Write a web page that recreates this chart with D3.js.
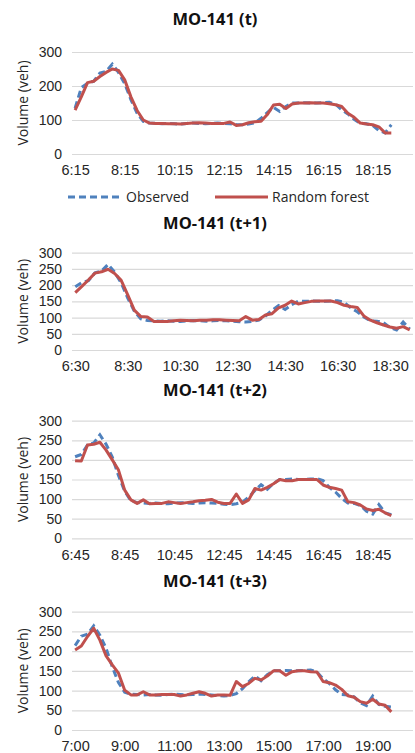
<!DOCTYPE html>
<html>
<head>
<meta charset="utf-8">
<script src="https://cdn.jsdelivr.net/npm/d3@7"></script>
<style>
  body { margin: 0; background: #fff; }
  text { font-family: "Open Sans", "Noto Sans", sans-serif; fill: #262626; }
</style>
</head>
<body>
<div id="chart"></div>
<script>
// panel titles and x-axis setup
const titles = ["MO-141 (t)", "MO-141 (t+1)", "MO-141 (t+2)", "MO-141 (t+3)"];
const startTimes = ["6:15", "6:30", "6:45", "7:00"];
const slotCounts = [55, 52, 55, 55];
const xTickLabels = [
  ["6:15", "8:15", "10:15", "12:15", "14:15", "16:15", "18:15"],
  ["6:30", "8:30", "10:30", "12:30", "14:30", "16:30", "18:30"],
  ["6:45", "8:45", "10:45", "12:45", "14:45", "16:45", "18:45"],
  ["7:00", "9:00", "11:00", "13:00", "15:00", "17:00", "19:00"]
];
const yTicks = [
  [0, 100, 200, 300],
  [0, 50, 100, 150, 200, 250, 300],
  [0, 50, 100, 150, 200, 250, 300],
  [0, 50, 100, 150, 200, 250, 300]
];

// observed volume by clock time, 15 min steps from 6:15
const observedStart = "6:15";
const observed = [
  135, 195, 208, 214, 238, 243, 264, 240, 207, 160,
  120, 96, 91, 90, 89, 90, 89, 88, 90, 91,
  90, 89, 90, 91, 90, 89, 87, 86, 88, 92,
  105, 122, 137, 125, 140, 150, 150, 151, 150, 150,
  151, 152, 147, 130, 118, 102, 90, 89, 84, 69,
  62, 86, 65, 60, 58
];
const pointsPerPanel = 52;

// random forest predictions, one per panel
const rfT0 = [
  129, 168, 210, 214, 228, 240, 250, 246, 218, 168,
  128, 100, 91, 90, 90, 89, 89, 88, 90, 91,
  92, 91, 90, 90, 90, 94, 84, 86, 92, 95,
  96, 116, 144, 146, 134, 147, 150, 150, 151, 150,
  150, 148, 145, 140, 120, 108, 91, 88, 86, 80,
  62, 62
];
const rfT1 = [
  177, 196, 216, 237, 241, 249, 236, 215, 170, 123,
  103, 102, 88, 88, 88, 90, 92, 91, 90, 92,
  92, 93, 93, 92, 91, 90, 103, 92, 94, 108,
  112, 130, 138, 151, 142, 146, 150, 151, 151, 151,
  146, 138, 134, 131, 105, 92, 84, 77, 71, 67,
  72, 62
];
const rfT2 = [
  198, 197, 238, 240, 245, 225, 200, 174, 123, 98,
  89, 98, 88, 89, 89, 93, 91, 89, 91, 93,
  96, 97, 99, 92, 89, 89, 113, 89, 98, 127,
  123, 130, 139, 150, 147, 147, 150, 150, 150, 150,
  136, 130, 127, 123, 93, 91, 85, 75, 71, 74,
  65, 58
];
const rfT3 = [
  203, 213, 237, 258, 228, 188, 165, 144, 101, 89,
  89, 97, 89, 89, 90, 90, 90, 86, 89, 93,
  97, 93, 86, 89, 89, 88, 123, 110, 118, 131,
  127, 137, 150, 150, 139, 148, 150, 150, 148, 147,
  123, 120, 114, 103, 87, 83, 72, 68, 78, 66,
  63, 46
];
const predictions = [rfT0, rfT1, rfT2, rfT3];

const legendLabels = ["Observed", "Random forest"];

const blue = "#4f81bd", red = "#c0504d";
const width = 415, height = 753;
const plotLeft = 72, plotRight = 413;
const plotTops = [52, 252.7, 420.7, 611.7];
const plotBottoms = [154, 350, 538.3, 730];
const titleYs = [19, 223, 390, 581];
const tickFont = "\"Liberation Sans\", Arial, sans-serif";

const toMin = s => { const [h, m] = s.split(":").map(Number); return h * 60 + m; };
const fmt = m => `${Math.floor(m / 60)}:${String(m % 60).padStart(2, "0")}`;

const svg = d3.select("#chart")
  .append("svg")
  .attr("width", width)
  .attr("height", height);

titles.forEach((title, p) => {
  const start = toMin(startTimes[p]);
  const slots = d3.range(slotCounts[p]).map(i => fmt(start + 15 * i));
  const offset = (start - toMin(observedStart)) / 15;
  const obs = observed.slice(offset, offset + pointsPerPanel);
  const pred = predictions[p];

  const x = d3.scalePoint()
    .domain(slots)
    .range([plotLeft, plotRight])
    .padding(0.5);
  const y = d3.scaleLinear()
    .domain([0, 300])
    .range([plotBottoms[p], plotTops[p]]);

  const g = svg.append("g");

  // title
  g.append("text")
    .attr("x", 215)
    .attr("y", titleYs[p])
    .attr("dy", "0.35em")
    .attr("text-anchor", "middle")
    .style("font-weight", "bold")
    .style("font-size", "16.5px")
    .style("fill", "#111")
    .text(title);

  // y axis with gridlines
  const yAxis = g.append("g")
    .attr("transform", `translate(${plotLeft},0)`)
    .call(d3.axisLeft(y).tickValues(yTicks[p]).tickSize(-(plotRight - plotLeft)).tickPadding(10));
  yAxis.select(".domain").remove();
  yAxis.selectAll(".tick line").attr("stroke", "#d9d9d9").attr("stroke-width", 1.2);
  yAxis.selectAll(".tick text")
    .style("font-size", "14px")
    .style("font-family", tickFont)
    .attr("fill", "#262626");

  // x axis labels
  const xAxis = g.append("g")
    .attr("transform", `translate(0,${plotBottoms[p]})`)
    .call(d3.axisBottom(x).tickValues(xTickLabels[p]).tickSize(0).tickPadding(11));
  xAxis.select(".domain").remove();
  xAxis.selectAll(".tick text")
    .style("font-size", "14.5px")
    .style("font-family", tickFont)
    .attr("fill", "#262626");

  // y axis title
  g.append("text")
    .attr("transform", `translate(23,${(plotTops[p] + plotBottoms[p]) / 2}) rotate(-90)`)
    .attr("dy", "0.35em")
    .attr("text-anchor", "middle")
    .style("font-size", "14px")
    .text("Volume (veh)");

  const line = d3.line()
    .x((d, i) => x(slots[i]))
    .y(d => y(d));

  g.append("path")
    .datum(obs)
    .attr("fill", "none")
    .attr("stroke", blue)
    .attr("stroke-width", 3)
    .attr("stroke-dasharray", "7,4")
    .attr("d", line);

  g.append("path")
    .datum(pred)
    .attr("fill", "none")
    .attr("stroke", red)
    .attr("stroke-width", 3)
    .attr("stroke-linejoin", "round")
    .attr("d", line);
});

// legend under the first panel
const legend = svg.append("g").attr("transform", "translate(0,197)");
const legendItems = [
  { label: legendLabels[0], color: blue, dash: "7,4", x0: 68, x1: 122 },
  { label: legendLabels[1], color: red, dash: null, x0: 215, x1: 268 }
];
legendItems.forEach(d => {
  legend.append("line")
    .attr("x1", d.x0).attr("x2", d.x1)
    .attr("stroke", d.color)
    .attr("stroke-width", 3)
    .attr("stroke-dasharray", d.dash);
  legend.append("text")
    .attr("x", d.x1 + 4)
    .attr("dy", "0.35em")
    .style("font-size", "14px")
    .text(d.label);
});
</script>
</body>
</html>
